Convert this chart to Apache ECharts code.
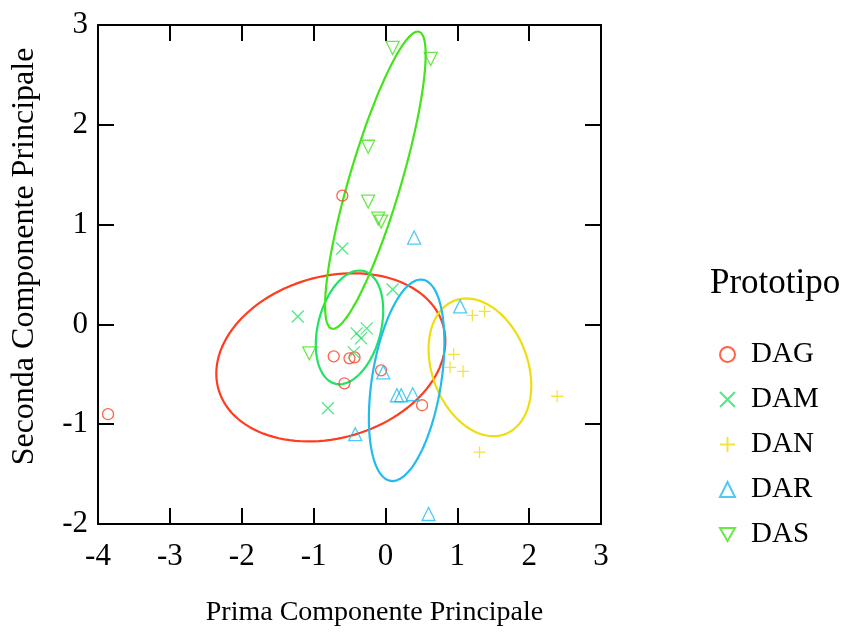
<!DOCTYPE html>
<html>
<head>
<meta charset="utf-8">
<script src="https://cdn.jsdelivr.net/npm/echarts@6/dist/echarts.min.js"></script>
<style>
  html, body { margin: 0; padding: 0; background: #fff; }
  #chart { width: 862px; height: 632px; }
</style>
</head>
<body>
<div id="chart"></div>
<script>
// gruppi e colori
var gruppi = ['DAG', 'DAM', 'DAN', 'DAR', 'DAS'];
var colori = ['#ff3c1e', '#22e266', '#eedd11', '#22bbee', '#44e41a'];

// punti [x, y]
var puntiDAG = [[-3.86, -0.90], [-0.72, -0.32], [-0.50, -0.34], [-0.43, -0.33], [-0.57, -0.59], [-0.06, -0.46], [0.51, -0.81], [-0.60, 1.29]];
var puntiDAM = [[-1.22, 0.08], [0.10, 0.35], [-0.40, -0.09], [-0.26, -0.04], [-0.34, -0.14], [-0.44, -0.28], [-0.80, -0.84], [-0.60, 0.76]];
var puntiDAN = [[1.21, 0.09], [1.38, 0.13], [0.95, -0.30], [0.90, -0.43], [1.08, -0.47], [2.39, -0.72], [1.31, -1.28]];
var puntiDAR = [[1.04, 0.18], [-0.03, -0.48], [0.16, -0.71], [0.22, -0.71], [0.38, -0.70], [-0.42, -1.10], [0.60, -1.90], [0.40, 0.87]];
var puntiDAS = [[-1.06, -0.29], [0.10, 2.77], [0.63, 2.66], [-0.24, 1.78], [-0.24, 1.23], [-0.10, 1.06], [-0.06, 1.03]];

// ellissi: [cx, cy, sxx, syy, sxy]
var ellisseDAG = [-0.76, -0.33, 2.54, 0.71, 0.26];
var ellisseDAM = [-0.50, -0.03, 0.22, 0.325, 0.08];
var ellisseDAN = [1.315, -0.43, 0.511, 0.476, -0.13];
var ellisseDAR = [0.295, -0.56, 0.276, 1.02, 0.20];
var ellisseDAS = [-0.14, 1.445, 0.49, 2.22, 0.88];

var punti = [puntiDAG, puntiDAM, puntiDAN, puntiDAR, puntiDAS];
var ellissi = [ellisseDAG, ellisseDAM, ellisseDAN, ellisseDAR, ellisseDAS];

var simboli = [
    'circle',
    'path://M0,0L10,10M10,0L0,10',
    'path://M5,0L5,10M0,5L10,5',
    'triangle',
    'path://M0,0L10,0L5,8.66Z'
];

//contorno dell'ellisse tramite Cholesky
function contorno(e) {
    var l11 = Math.sqrt(e[2]);
    var l21 = e[4] / l11;
    var l22 = Math.sqrt(e[3] - l21 * l21);
    var pts = [];
    for (var i = 0; i <= 120; i++) {
        var t = i / 120 * 2 * Math.PI;
        var c = Math.cos(t), s = Math.sin(t);
        pts.push([e[0] + l11 * c, e[1] + l21 * c + l22 * s]);
    }
    return pts;
}

var font = 'Liberation Serif';
var series = [];
ellissi.forEach(function(e, i) {
    series.push({
        name: 'ell-' + gruppi[i],
        type: 'line',
        data: contorno(e),
        showSymbol: false,
        silent: true,
        lineStyle: { color: colori[i], width: 2.2 },
        z: 2
    });
});
punti.forEach(function(p, i) {
    var isLine = i == 1 || i == 2;
    series.push({
        name: gruppi[i],
        type: 'scatter',
        data: p,
        symbol: simboli[i],
        symbolSize: i == 0 ? 11 : (isLine ? 12 : 13),
        itemStyle: {
            color: isLine ? colori[i] : 'rgba(0,0,0,0)',
            borderColor: colori[i],
            borderWidth: 1.3
        },
        z: 3
    });
});

var legendData = gruppi.map(function(g, i) {
    var isLine = i == 1 || i == 2;
    return {
        name: g,
        icon: simboli[i],
        itemStyle: {
            color: isLine ? colori[i] : 'rgba(0,0,0,0)',
            borderColor: colori[i],
            borderWidth: 2
        }
    };
});

var axisLine = { show: true, onZero: false, lineStyle: { color: '#000', width: 2 } };
var axisTick = { show: true, inside: true, length: 16, lineStyle: { color: '#000', width: 2 } };

var option = {
    backgroundColor: '#fff',
    animation: false,
    grid: { left: 98, right: 261, top: 25, bottom: 108, containLabel: false },
    title: {
        text: 'Prototipo',
        left: 705, top: 261,
        textStyle: { fontFamily: font, fontSize: 35, fontWeight: 'normal', color: '#000' }
    },
    legend: {
        data: legendData,
        orient: 'vertical',
        left: 714, top: 335,
        itemWidth: 15, itemHeight: 15,
        itemGap: 16,
        textStyle: { fontFamily: font, fontSize: 29, lineHeight: 28, color: '#000', padding: [0, 0, 0, 11] },
        selectedMode: false
    },
    xAxis: [{
        type: 'value', min: -4, max: 3, interval: 1, position: 'bottom',
        name: 'Prima Componente Principale', nameLocation: 'middle', nameGap: 75,
        nameTextStyle: { fontFamily: font, fontSize: 28, color: '#000', padding: [0, 0, 0, 50] },
        axisLine: axisLine, axisTick: axisTick, splitLine: { show: false },
        axisLabel: { fontFamily: font, fontSize: 31, color: '#000', margin: 17 }
    }, {
        type: 'value', min: -4, max: 3, interval: 1, position: 'top',
        axisLine: axisLine, axisTick: axisTick, splitLine: { show: false },
        axisLabel: { show: false }
    }],
    yAxis: [{
        type: 'value', min: -2, max: 3, interval: 1, position: 'left',
        name: 'Seconda Componente Principale', nameLocation: 'middle', nameGap: 57,
        nameTextStyle: { fontFamily: font, fontSize: 32, color: '#000', padding: [0, 0, 0, 36] },
        axisLine: axisLine, axisTick: axisTick, splitLine: { show: false },
        axisLabel: { fontFamily: font, fontSize: 31, color: '#000', margin: 10 }
    }, {
        type: 'value', min: -2, max: 3, interval: 1, position: 'right',
        axisLine: axisLine, axisTick: axisTick, splitLine: { show: false },
        axisLabel: { show: false }
    }],
    series: series
};

var myChart = echarts.init(document.getElementById('chart'));
myChart.setOption(option);
</script>
</body>
</html>
